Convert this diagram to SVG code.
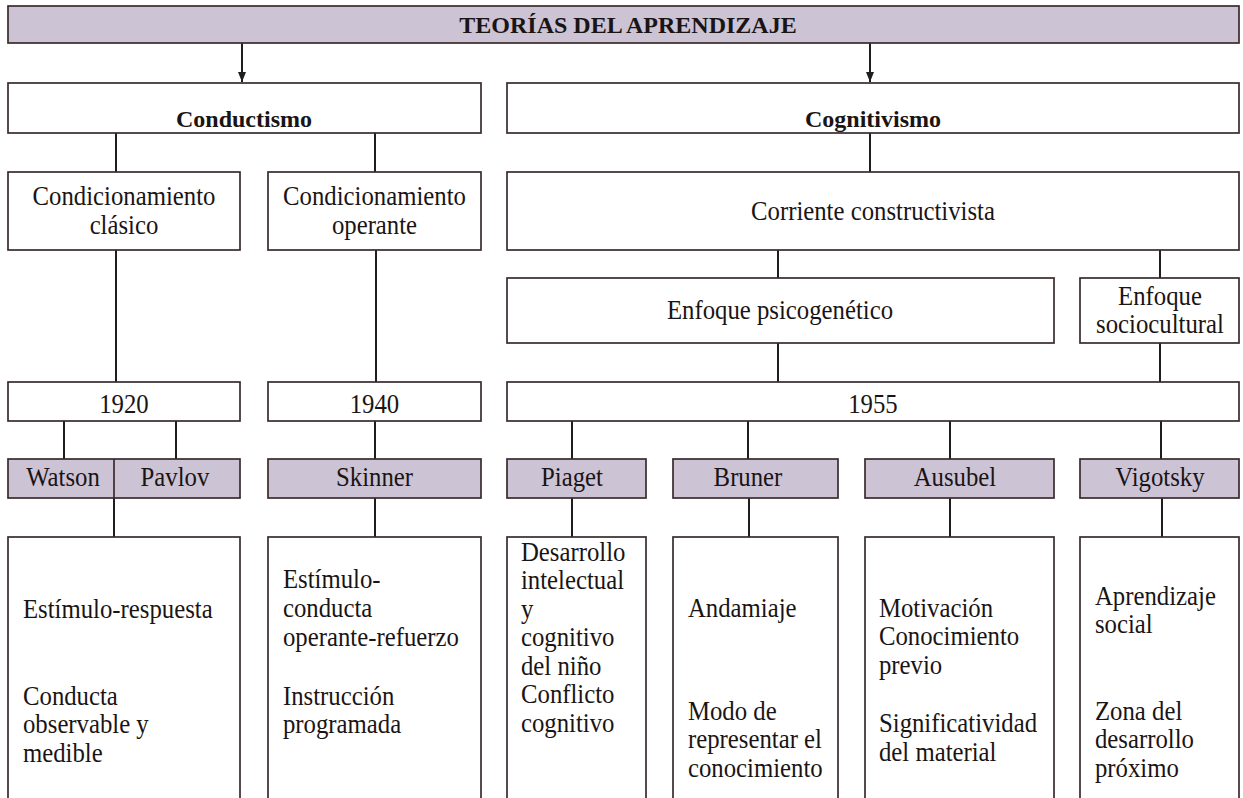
<svg xmlns="http://www.w3.org/2000/svg" width="1243" height="798" viewBox="0 0 1243 798">
<style>
.box{fill:#ffffff;stroke:#3a2b2b;stroke-width:1.7}
.hl{fill:#ccc3d4;stroke:#3a2b2b;stroke-width:1.7}
.ln{stroke:#1e1e1e;stroke-width:2;fill:none}
text{font-family:'Liberation Serif','Times New Roman',serif;font-size:27.5px;font-weight:400;fill:#1a1414}
.c{text-anchor:middle}
.b{font-weight:700;font-size:24px}
</style>
<defs>
<marker id="ah" markerWidth="10" markerHeight="8" refX="10" refY="4" orient="auto" markerUnits="userSpaceOnUse">
<path d="M0,0 L10,4 L0,8 Z" fill="#1e1e1e"/>
</marker>
</defs>
<rect width="1243" height="798" fill="#ffffff"/>
<g id="connectors">
<line class="ln" x1="242" y1="43" x2="242" y2="82" marker-end="url(#ah)"/>
<line class="ln" x1="870" y1="43" x2="870" y2="82" marker-end="url(#ah)"/>
<line class="ln" x1="116" y1="133" x2="116" y2="172"/>
<line class="ln" x1="375" y1="133" x2="375" y2="172"/>
<line class="ln" x1="870" y1="133" x2="870" y2="172"/>
<line class="ln" x1="116" y1="250" x2="116" y2="382"/>
<line class="ln" x1="376" y1="250" x2="376" y2="382"/>
<line class="ln" x1="778" y1="250" x2="778" y2="278"/>
<line class="ln" x1="1160" y1="250" x2="1160" y2="278"/>
<line class="ln" x1="778" y1="343" x2="778" y2="382"/>
<line class="ln" x1="1160" y1="343" x2="1160" y2="382"/>
<line class="ln" x1="64" y1="421" x2="64" y2="459"/>
<line class="ln" x1="176" y1="421" x2="176" y2="459"/>
<line class="ln" x1="375" y1="421" x2="375" y2="459"/>
<line class="ln" x1="572" y1="421" x2="572" y2="459"/>
<line class="ln" x1="748" y1="421" x2="748" y2="459"/>
<line class="ln" x1="950" y1="421" x2="950" y2="459"/>
<line class="ln" x1="1161" y1="421" x2="1161" y2="459"/>
<line class="ln" x1="114" y1="498" x2="114" y2="537"/>
<line class="ln" x1="375" y1="498" x2="375" y2="537"/>
<line class="ln" x1="572" y1="498" x2="572" y2="537"/>
<line class="ln" x1="749" y1="498" x2="749" y2="537"/>
<line class="ln" x1="950" y1="498" x2="950" y2="537"/>
<line class="ln" x1="1162" y1="498" x2="1162" y2="537"/>
</g>
<g id="teorias">
<rect class="hl" x="8" y="6" width="1231" height="37"/>
<text class="c b" x="628" y="33">TEORÍAS DEL APRENDIZAJE</text>
</g>
<g id="conductismo">
<rect class="box" x="8" y="83" width="473" height="50"/>
<text class="c b" x="244" y="127">Conductismo</text>
</g>
<g id="cognitivismo">
<rect class="box" x="507" y="83" width="732" height="50"/>
<text class="c b" x="873" y="127">Cognitivismo</text>
</g>
<g id="cond-clasico">
<rect class="box" x="8" y="172" width="232" height="78"/>
<text class="c" transform="scale(0.9 1)" x="137.78" y="205.5">Condicionamiento</text>
<text class="c" transform="scale(0.9 1)" x="137.78" y="234.5">clásico</text>
</g>
<g id="cond-operante">
<rect class="box" x="268" y="172" width="213" height="78"/>
<text class="c" transform="scale(0.9 1)" x="416.11" y="205.5">Condicionamiento</text>
<text class="c" transform="scale(0.9 1)" x="416.11" y="234.5">operante</text>
</g>
<g id="corriente">
<rect class="box" x="507" y="172" width="732" height="78"/>
<text class="c" transform="scale(0.9 1)" x="970" y="220">Corriente constructivista</text>
</g>
<g id="enfoque-psico">
<rect class="box" x="507" y="278" width="547" height="65"/>
<text class="c" transform="scale(0.9 1)" x="866.67" y="319">Enfoque psicogenético</text>
</g>
<g id="enfoque-socio">
<rect class="box" x="1080" y="278" width="159" height="65"/>
<text class="c" transform="scale(0.9 1)" x="1288.89" y="305">Enfoque</text>
<text class="c" transform="scale(0.9 1)" x="1288.89" y="333.5">sociocultural</text>
</g>
<g id="y1920">
<rect class="box" x="8" y="382" width="232" height="39"/>
<text class="c" transform="scale(0.9 1)" x="137.78" y="413">1920</text>
</g>
<g id="y1940">
<rect class="box" x="268" y="382" width="213" height="39"/>
<text class="c" transform="scale(0.9 1)" x="416.11" y="413">1940</text>
</g>
<g id="y1955">
<rect class="box" x="507" y="382" width="732" height="39"/>
<text class="c" transform="scale(0.9 1)" x="970" y="413">1955</text>
</g>
<g id="watson-pavlov">
<rect class="hl" x="8" y="459" width="232" height="39"/>
<line x1="114" y1="459" x2="114" y2="498" stroke="#3a2b2b" stroke-width="1.7"/>
<text class="c" transform="scale(0.9 1)" x="70" y="486">Watson</text>
<text class="c" transform="scale(0.9 1)" x="194.44" y="486">Pavlov</text>
</g>
<g id="skinner">
<rect class="hl" x="268" y="459" width="213" height="39"/>
<text class="c" transform="scale(0.9 1)" x="416.11" y="486">Skinner</text>
</g>
<g id="piaget">
<rect class="hl" x="507" y="459" width="139" height="39"/>
<text class="c" transform="scale(0.9 1)" x="635.56" y="486">Piaget</text>
</g>
<g id="bruner">
<rect class="hl" x="673" y="459" width="165" height="39"/>
<text class="c" transform="scale(0.9 1)" x="831.11" y="486">Bruner</text>
</g>
<g id="ausubel">
<rect class="hl" x="865" y="459" width="189" height="39"/>
<text class="c" transform="scale(0.9 1)" x="1061.11" y="486">Ausubel</text>
</g>
<g id="vigotsky">
<rect class="hl" x="1080" y="459" width="159" height="39"/>
<text class="c" transform="scale(0.9 1)" x="1288.89" y="486">Vigotsky</text>
</g>
<g id="desc-clasico">
<rect class="box" x="8" y="537" width="232" height="280"/>
<text transform="scale(0.9 1)" x="25.56" y="618">Estímulo-respuesta</text>
<text transform="scale(0.9 1)" x="25.56" y="705">Conducta</text>
<text transform="scale(0.9 1)" x="25.56" y="733">observable y</text>
<text transform="scale(0.9 1)" x="25.56" y="762">medible</text>
</g>
<g id="desc-operante">
<rect class="box" x="268" y="537" width="213" height="280"/>
<text transform="scale(0.9 1)" x="314.44" y="588">Estímulo-</text>
<text transform="scale(0.9 1)" x="314.44" y="617">conducta</text>
<text transform="scale(0.9 1)" x="314.44" y="646">operante-refuerzo</text>
<text transform="scale(0.9 1)" x="314.44" y="705">Instrucción</text>
<text transform="scale(0.9 1)" x="314.44" y="733">programada</text>
</g>
<g id="desc-piaget">
<rect class="box" x="507" y="537" width="139" height="280"/>
<text transform="scale(0.9 1)" x="578.89" y="561">Desarrollo</text>
<text transform="scale(0.9 1)" x="578.89" y="589">intelectual</text>
<text transform="scale(0.9 1)" x="578.89" y="618">y</text>
<text transform="scale(0.9 1)" x="578.89" y="646">cognitivo</text>
<text transform="scale(0.9 1)" x="578.89" y="675">del niño</text>
<text transform="scale(0.9 1)" x="578.89" y="703">Conflicto</text>
<text transform="scale(0.9 1)" x="578.89" y="732">cognitivo</text>
</g>
<g id="desc-bruner">
<rect class="box" x="673" y="537" width="165" height="280"/>
<text transform="scale(0.9 1)" x="764.44" y="617">Andamiaje</text>
<text transform="scale(0.9 1)" x="764.44" y="720">Modo de</text>
<text transform="scale(0.9 1)" x="764.44" y="748">representar el</text>
<text transform="scale(0.9 1)" x="764.44" y="777">conocimiento</text>
</g>
<g id="desc-ausubel">
<rect class="box" x="865" y="537" width="189" height="280"/>
<text transform="scale(0.9 1)" x="976.67" y="617">Motivación</text>
<text transform="scale(0.9 1)" x="976.67" y="645">Conocimiento</text>
<text transform="scale(0.9 1)" x="976.67" y="674">previo</text>
<text transform="scale(0.9 1)" x="976.67" y="732">Significatividad</text>
<text transform="scale(0.9 1)" x="976.67" y="761">del material</text>
</g>
<g id="desc-vigotsky">
<rect class="box" x="1080" y="537" width="159" height="280"/>
<text transform="scale(0.9 1)" x="1216.67" y="605">Aprendizaje</text>
<text transform="scale(0.9 1)" x="1216.67" y="633">social</text>
<text transform="scale(0.9 1)" x="1216.67" y="720">Zona del</text>
<text transform="scale(0.9 1)" x="1216.67" y="748">desarrollo</text>
<text transform="scale(0.9 1)" x="1216.67" y="777">próximo</text>
</g>
</svg>
